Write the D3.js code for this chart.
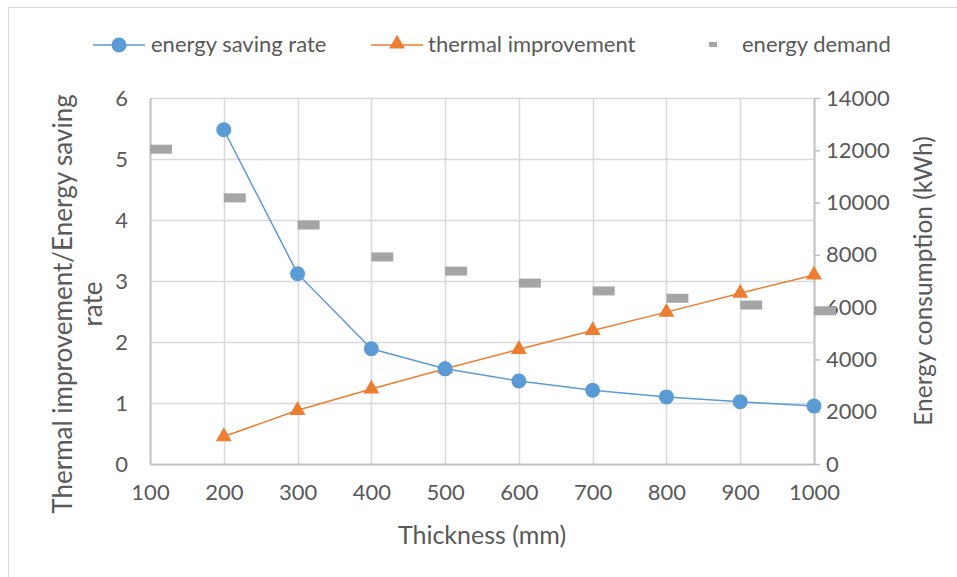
<!DOCTYPE html>
<html>
<head>
<meta charset="utf-8">
<script src="https://cdn.jsdelivr.net/npm/d3@7/dist/d3.min.js"></script>
<style>
  html, body { margin: 0; padding: 0; background: #fff; }
  svg { display: block; font-family: Lato, "Open Sans", sans-serif; }
</style>
</head>
<body>
<svg id="chart" width="957" height="577"></svg>
<script>
// Insulation thickness (mm)
const thickness = [100, 200, 300, 400, 500, 600, 700, 800, 900, 1000];
// Energy saving rate (left axis), from 200 mm onwards
const savingThickness = [200, 300, 400, 500, 600, 700, 800, 900, 1000];
const savingRate = [5.48, 3.12, 1.89, 1.56, 1.36, 1.21, 1.10, 1.02, 0.95];
// Thermal improvement (left axis)
const thermalImprovement = [0.45, 0.88, 1.23, 1.56, 1.88, 2.19, 2.49, 2.80, 3.10];
// Energy demand (kWh, right axis)
const energyDemand = [12040, 10180, 9140, 7920, 7380, 6920, 6620, 6340, 6080, 5860];

const xTicks = [100, 200, 300, 400, 500, 600, 700, 800, 900, 1000];
const leftTicks = [0, 1, 2, 3, 4, 5, 6];
const rightTicks = [0, 2000, 4000, 6000, 8000, 10000, 12000, 14000];

const svg = d3.select("#chart");
const plot = { left: 150, right: 814, top: 98, bottom: 464 };

const x = d3.scaleLinear().domain([100, 1000]).range([plot.left, plot.right]);
const yL = d3.scaleLinear().domain([0, 6]).range([plot.bottom, plot.top]);
const yR = d3.scaleLinear().domain([0, 14000]).range([plot.bottom, plot.top]);

const blue = "#5b9bd5", orange = "#ed7d31", grey = "#a5a5a5";
const grid = "#d9d9d9", axisCol = "#bfbfbf", textCol = "#595959";

// outer frame
svg.append("rect").attr("x", 8.5).attr("y", 7.5).attr("width", 960).attr("height", 580)
  .attr("fill", "none").attr("stroke", grid).attr("stroke-width", 1);

// gridlines
svg.append("g").selectAll("line").data(leftTicks.filter(d => d > 0)).join("line")
  .attr("x1", plot.left).attr("x2", plot.right)
  .attr("y1", d => Math.round(yL(d)) + 0.5).attr("y2", d => Math.round(yL(d)) + 0.5)
  .attr("stroke", grid).attr("stroke-width", 1.5);
svg.append("g").selectAll("line").data(xTicks.slice(1, -1)).join("line")
  .attr("x1", d => Math.round(x(d)) + 0.5).attr("x2", d => Math.round(x(d)) + 0.5)
  .attr("y1", plot.top).attr("y2", plot.bottom)
  .attr("stroke", grid).attr("stroke-width", 1.5);

// left axis
const gL = svg.append("g").attr("transform", `translate(${plot.left},0)`)
  .call(d3.axisLeft(yL).tickValues(leftTicks).tickSize(0).tickPadding(22).tickFormat(d3.format("d")));
gL.select(".domain").attr("stroke", axisCol).attr("stroke-width", 2);
gL.selectAll("text").attr("fill", textCol).attr("font-size", 22).attr("font-family", "Lato, sans-serif");

// right axis
const gR = svg.append("g").attr("transform", `translate(${plot.right},0)`)
  .call(d3.axisRight(yR).tickValues(rightTicks).tickSize(6).tickSizeOuter(0).tickPadding(6).tickFormat(d3.format("d")));
gR.select(".domain").attr("stroke", axisCol).attr("stroke-width", 2);
gR.selectAll(".tick line").attr("stroke", axisCol).attr("stroke-width", 1.5);
gR.selectAll("text").attr("fill", textCol).attr("font-size", 22).attr("font-family", "Lato, sans-serif");

// bottom axis
const gB = svg.append("g").attr("transform", `translate(0,${plot.bottom})`)
  .call(d3.axisBottom(x).tickValues(xTicks).tickSize(0).tickPadding(20).tickFormat(d3.format("d")));
gB.select(".domain").attr("stroke", axisCol).attr("stroke-width", 2);
gB.selectAll("text").attr("fill", textCol).attr("font-size", 22).attr("font-family", "Lato, sans-serif");

// axis titles
svg.append("text").attr("x", 482).attr("y", 544).attr("text-anchor", "middle")
  .attr("fill", textCol).attr("font-size", 25).text("Thickness (mm)");
const lt = svg.append("text").attr("transform", "translate(72,304) rotate(-90)")
  .attr("text-anchor", "middle").attr("fill", textCol).attr("font-size", 26);
lt.append("tspan").attr("x", 0).attr("dy", 0).text("Thermal improvement/Energy saving");
lt.append("tspan").attr("x", 0).attr("dy", 30).text("rate");
svg.append("text").attr("transform", "translate(932,281) rotate(-90)")
  .attr("text-anchor", "middle").attr("fill", textCol).attr("font-size", 24.5)
  .text("Energy consumption (kWh)");

// energy demand dashes (right axis)
const demand = thickness.map((t, i) => ({ t, v: energyDemand[i] }));
svg.append("g").selectAll("rect").data(demand).join("rect")
  .attr("x", d => x(d.t)).attr("y", d => yR(d.v) - 4.5)
  .attr("width", 22).attr("height", 9).attr("fill", grey);

// thermal improvement line + triangles
const thermal = savingThickness.map((t, i) => ({ t, v: thermalImprovement[i] }));
const line = d3.line().x(d => x(d.t)).y(d => yL(d.v));
svg.append("path").datum(thermal).attr("d", line)
  .attr("fill", "none").attr("stroke", orange).attr("stroke-width", 1.5);
const tri = d3.symbol().type(d3.symbolTriangle).size(110);
svg.append("g").selectAll("path").data(thermal).join("path")
  .attr("transform", d => `translate(${x(d.t)},${yL(d.v)})`)
  .attr("d", tri).attr("fill", orange);

// energy saving rate line + circles
const saving = savingThickness.map((t, i) => ({ t, v: savingRate[i] }));
svg.append("path").datum(saving).attr("d", line)
  .attr("fill", "none").attr("stroke", blue).attr("stroke-width", 1.5);
svg.append("g").selectAll("circle").data(saving).join("circle")
  .attr("cx", d => x(d.t)).attr("cy", d => yL(d.v)).attr("r", 7.5).attr("fill", blue);

// legend
const legend = svg.append("g").attr("font-size", 22).attr("fill", textCol);
legend.append("line").attr("x1", 93).attr("x2", 145).attr("y1", 45).attr("y2", 45)
  .attr("stroke", blue).attr("stroke-width", 1.5);
legend.append("circle").attr("cx", 119).attr("cy", 45).attr("r", 7.5).attr("fill", blue);
legend.append("text").attr("x", 151).attr("y", 52).text("energy saving rate");
legend.append("line").attr("x1", 371).attr("x2", 423).attr("y1", 45).attr("y2", 45)
  .attr("stroke", orange).attr("stroke-width", 1.5);
legend.append("path").attr("transform", "translate(397,44)").attr("d", tri).attr("fill", orange);
legend.append("text").attr("x", 428).attr("y", 52).text("thermal improvement");
legend.append("rect").attr("x", 709).attr("y", 42).attr("width", 8).attr("height", 5).attr("fill", grey);
legend.append("text").attr("x", 742).attr("y", 52).text("energy demand");
</script>
</body>
</html>
